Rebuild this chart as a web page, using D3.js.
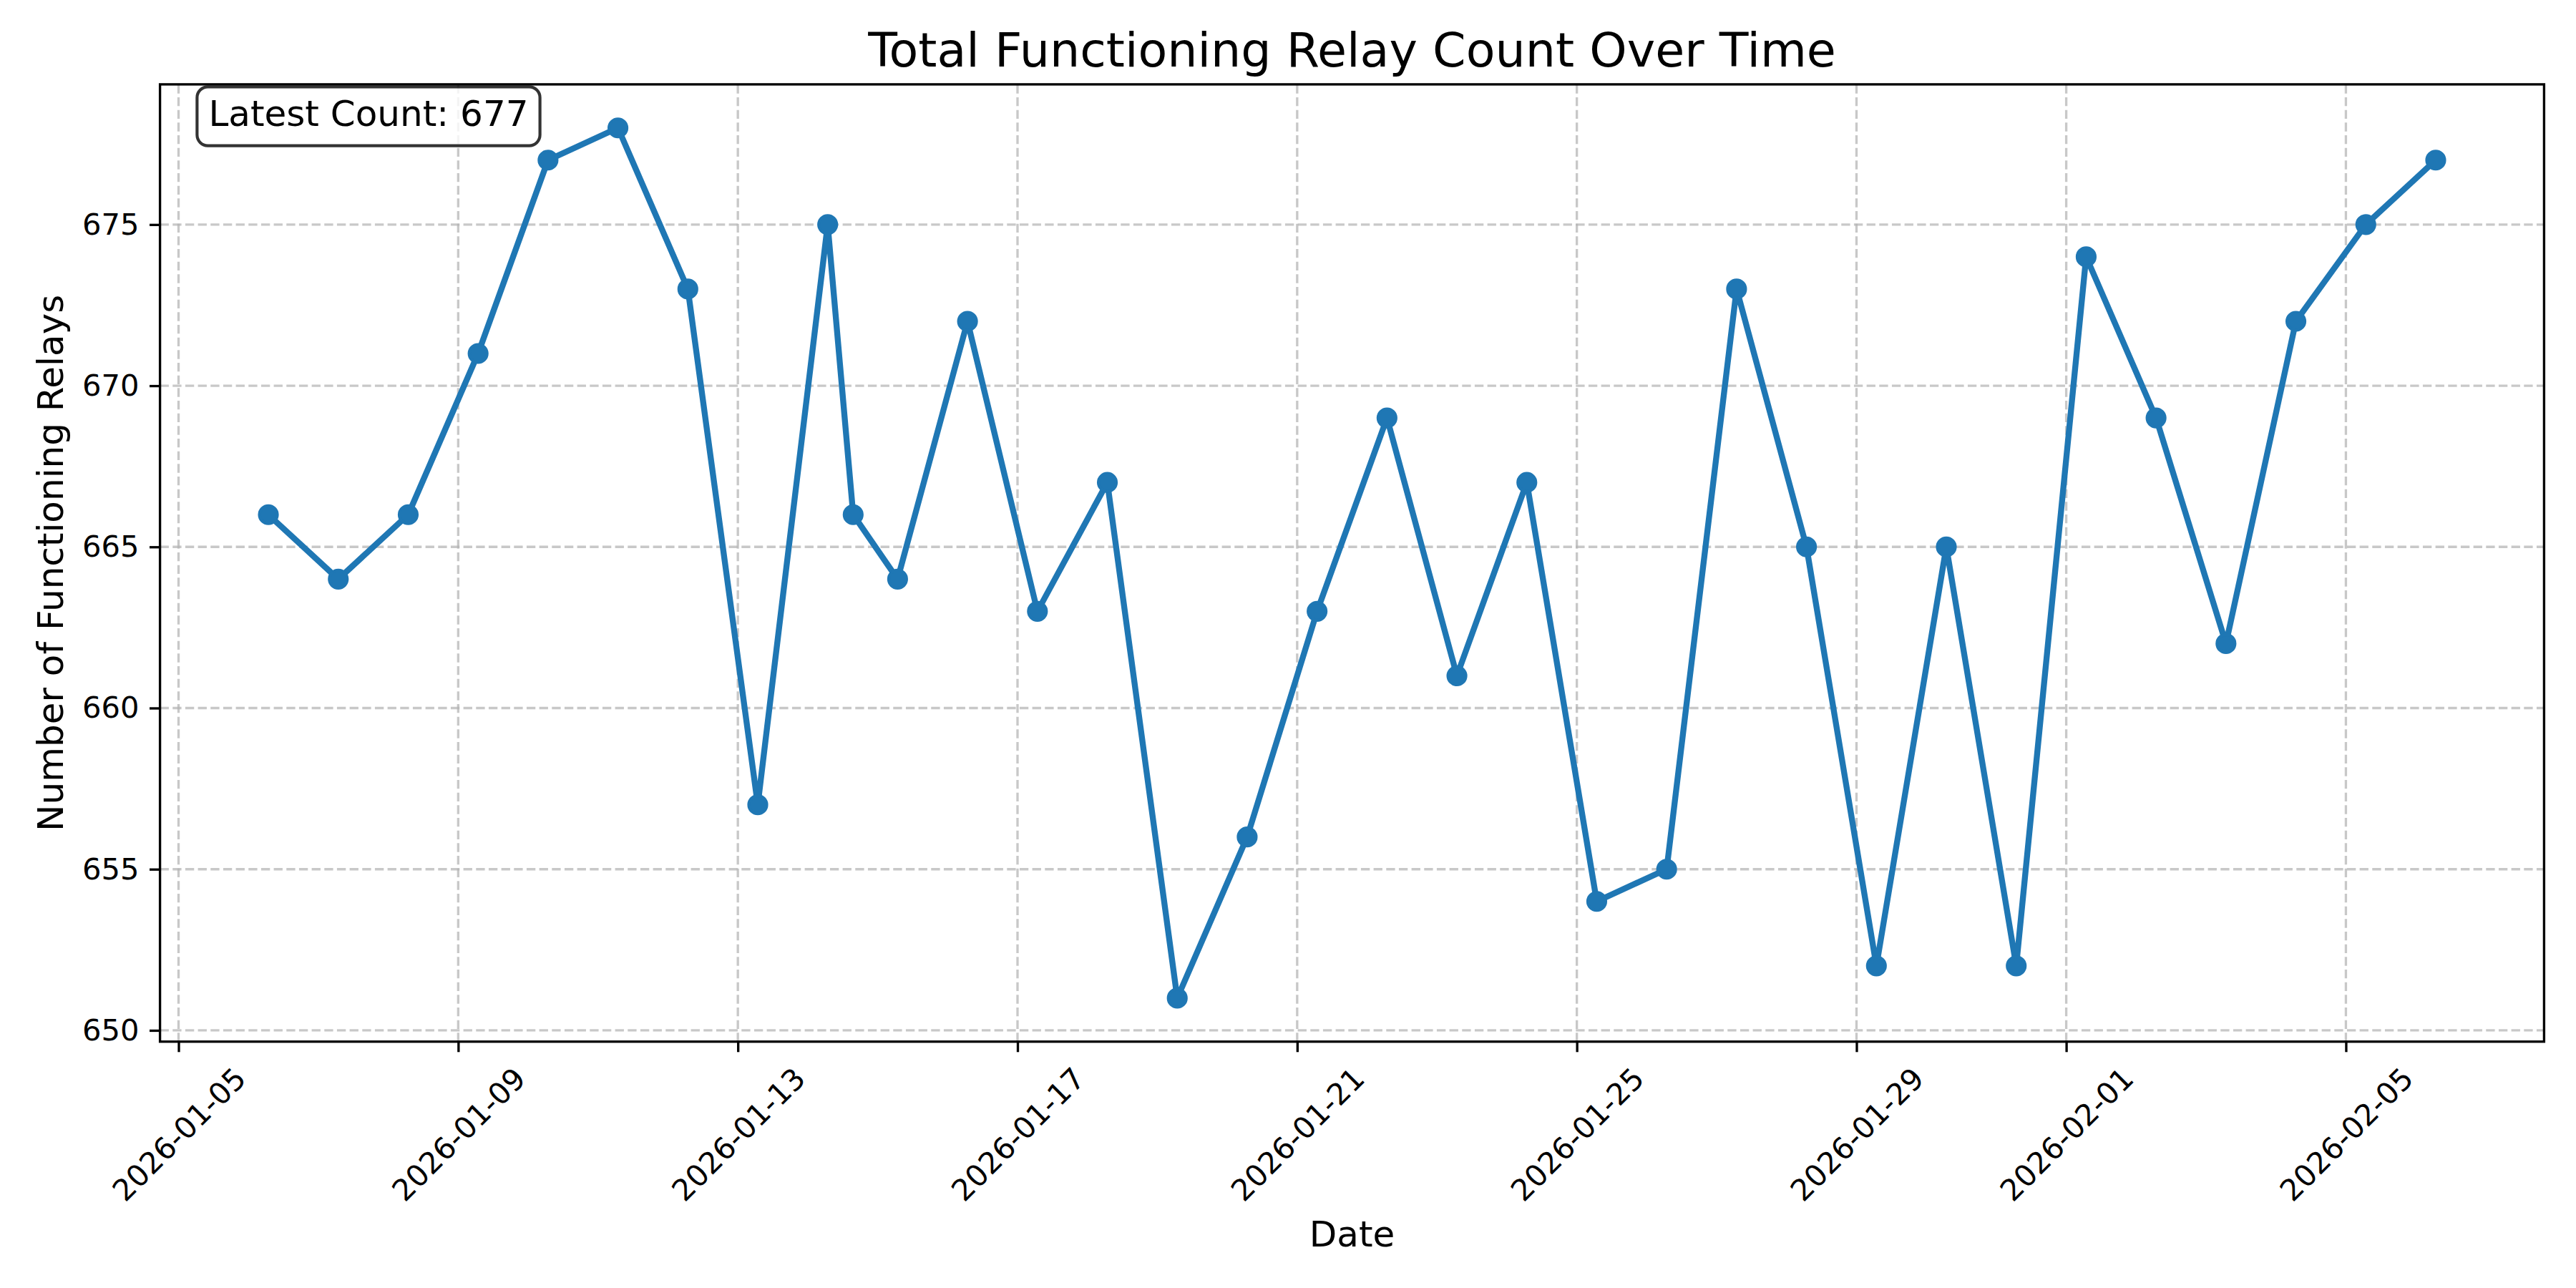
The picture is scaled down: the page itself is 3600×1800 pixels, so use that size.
<!DOCTYPE html>
<html>
<head>
<meta charset="utf-8">
<script src="https://cdn.jsdelivr.net/npm/d3@7"></script>
<style>
  body { margin: 0; background: white; }
  svg { display: block; font-family: "DejaVu Sans", sans-serif; }
</style>
</head>
<body>
<svg id="chart"></svg>
<script>
// Observation times (one per day, plus one extra reading on Jan 14)
const dates = [
    "2026-01-06T06:50", "2026-01-07T06:50", "2026-01-08T06:50", "2026-01-09T06:50",
    "2026-01-10T06:50", "2026-01-11T06:50", "2026-01-12T06:50", "2026-01-13T06:50",
    "2026-01-14T06:50", "2026-01-14T15:35", "2026-01-15T06:50", "2026-01-16T06:50",
    "2026-01-17T06:50", "2026-01-18T06:50", "2026-01-19T06:50", "2026-01-20T06:50",
    "2026-01-21T06:50", "2026-01-22T06:50", "2026-01-23T06:50", "2026-01-24T06:50",
    "2026-01-25T06:50", "2026-01-26T06:50", "2026-01-27T06:50", "2026-01-28T06:50",
    "2026-01-29T06:50", "2026-01-30T06:50", "2026-01-31T06:50", "2026-02-01T06:50",
    "2026-02-02T06:50", "2026-02-03T06:50", "2026-02-04T06:50", "2026-02-05T06:50",
    "2026-02-06T06:50"
];
const relayCounts = [
    666, 664, 666, 671, 677, 678, 673, 657, 675, 666, 664, 672,
    663, 667, 651, 656, 663, 669, 661, 667, 654, 655, 673, 665,
    652, 665, 652, 674, 669, 662, 672, 675, 677
];
const xTickDates = ["2026-01-05", "2026-01-09", "2026-01-13", "2026-01-17", "2026-01-21",
                    "2026-01-25", "2026-01-29", "2026-02-01", "2026-02-05"];
const yTicks = [650, 655, 660, 665, 670, 675];

const parseTime = d3.timeParse("%Y-%m-%dT%H:%M");
const parseDay = d3.timeParse("%Y-%m-%d");
const fmtDay = d3.timeFormat("%Y-%m-%d");

const data = dates.map((d, i) => ({ date: parseTime(d), count: relayCounts[i] }));

// Figure layout (matplotlib 12x6 in at 300 dpi)
const width = 3600, height = 1800;
const margin = { top: 117.9, right: 44.6, bottom: 344.3, left: 223.6 };
const plotW = width - margin.left - margin.right;
const plotH = height - margin.top - margin.bottom;

const pt = 300 / 72;   // px per point

const svg = d3.select("#chart")
    .attr("width", width)
    .attr("height", height);

svg.append("rect").attr("width", width).attr("height", height).attr("fill", "white");

const g = svg.append("g")
    .attr("transform", `translate(${margin.left}, ${margin.top})`);

// Scales with 5% padding like matplotlib autoscale
const tExt = d3.extent(data, d => d.date);
const tPad = (tExt[1] - tExt[0]) * 0.05;
const x = d3.scaleTime()
    .domain([new Date(+tExt[0] - tPad), new Date(+tExt[1] + tPad)])
    .range([0, plotW]);

const cExt = d3.extent(relayCounts);
const cPad = (cExt[1] - cExt[0]) * 0.05;
const y = d3.scaleLinear()
    .domain([cExt[0] - cPad, cExt[1] + cPad])
    .range([plotH, 0]);

const xTicks = xTickDates.map(parseDay);

// Grid
const grid = g.append("g").attr("class", "grid");
grid.selectAll("line.vgrid").data(xTicks)
    .enter().append("line")
    .attr("x1", d => x(d)).attr("x2", d => x(d))
    .attr("y1", plotH).attr("y2", 0);
grid.selectAll("line.hgrid").data(yTicks)
    .enter().append("line")
    .attr("x1", 0).attr("x2", plotW)
    .attr("y1", d => y(d)).attr("y2", d => y(d));
grid.selectAll("line")
    .attr("stroke", "#b0b0b0")
    .attr("stroke-opacity", 0.7)
    .attr("stroke-width", 0.8 * pt)
    .attr("stroke-dasharray", `${3.7 * 0.8 * pt},${1.6 * 0.8 * pt}`);

// Line + markers
const line = d3.line()
    .x(d => x(d.date))
    .y(d => y(d.count));

g.append("path")
    .datum(data)
    .attr("fill", "none")
    .attr("stroke", "#1f77b4")
    .attr("stroke-width", 2 * pt)
    .attr("stroke-linejoin", "round")
    .attr("stroke-linecap", "square")
    .attr("d", line);

g.selectAll("circle.pt").data(data)
    .enter().append("circle")
    .attr("class", "pt")
    .attr("cx", d => x(d.date))
    .attr("cy", d => y(d.count))
    .attr("r", 3 * pt)
    .attr("fill", "#1f77b4")
    .attr("stroke", "#1f77b4")
    .attr("stroke-width", 1 * pt);

// Axes
const tickLen = 3.5 * pt;
const xAxis = g.append("g")
    .attr("transform", `translate(0, ${plotH})`)
    .call(d3.axisBottom(x).tickValues(xTicks).tickFormat(fmtDay)
        .tickSize(tickLen).tickSizeOuter(0));
xAxis.select(".domain").remove();
xAxis.selectAll(".tick line").attr("stroke", "black").attr("stroke-width", 0.8 * pt);
xAxis.selectAll(".tick text")
    .attr("x", 0).attr("y", 0)
    .attr("dy", "0.36em")
    .attr("text-anchor", "middle")
    .attr("transform", "translate(0, 129.3) rotate(-45)")
    .style("font-family", "DejaVu Sans")
    .style("font-size", (10 * pt) + "px")
    .style("fill", "black");

const yAxis = g.append("g")
    .call(d3.axisLeft(y).tickValues(yTicks).tickSize(tickLen).tickPadding(tickLen));
yAxis.select(".domain").remove();
yAxis.selectAll(".tick line").attr("stroke", "black").attr("stroke-width", 0.8 * pt);
yAxis.selectAll(".tick text")
    .style("font-family", "DejaVu Sans")
    .style("font-size", (10 * pt) + "px")
    .style("fill", "black");

// Spines
g.append("rect")
    .attr("x", 0).attr("y", 0)
    .attr("width", plotW).attr("height", plotH)
    .attr("fill", "none")
    .attr("stroke", "black")
    .attr("stroke-width", 0.8 * pt);

// Title and axis labels
svg.append("text")
    .attr("x", margin.left + plotW / 2)
    .attr("y", 92.9)
    .attr("text-anchor", "middle")
    .style("font-size", (16 * pt) + "px")
    .text("Total Functioning Relay Count Over Time");

svg.append("text")
    .attr("x", margin.left + plotW / 2)
    .attr("y", 1741.5)
    .attr("text-anchor", "middle")
    .style("font-size", (12 * pt) + "px")
    .text("Date");

svg.append("text")
    .attr("transform", `translate(88.3, ${margin.top + plotH / 2}) rotate(-90)`)
    .attr("text-anchor", "middle")
    .style("font-size", (12 * pt) + "px")
    .text("Number of Functioning Relays");

// Latest count annotation box
const note = svg.append("g");
note.append("rect")
    .attr("x", 275.4).attr("y", 121.4)
    .attr("width", 479.2).attr("height", 82.2)
    .attr("rx", 15).attr("ry", 15)
    .attr("fill", "white").attr("fill-opacity", 0.8)
    .attr("stroke", "black").attr("stroke-opacity", 0.8)
    .attr("stroke-width", 1 * pt);
note.append("text")
    .attr("x", 515)
    .attr("y", 176)
    .attr("text-anchor", "middle")
    .style("font-size", (12 * pt) + "px")
    .text(`Latest Count: ${relayCounts[relayCounts.length - 1]}`);
</script>
</body>
</html>
